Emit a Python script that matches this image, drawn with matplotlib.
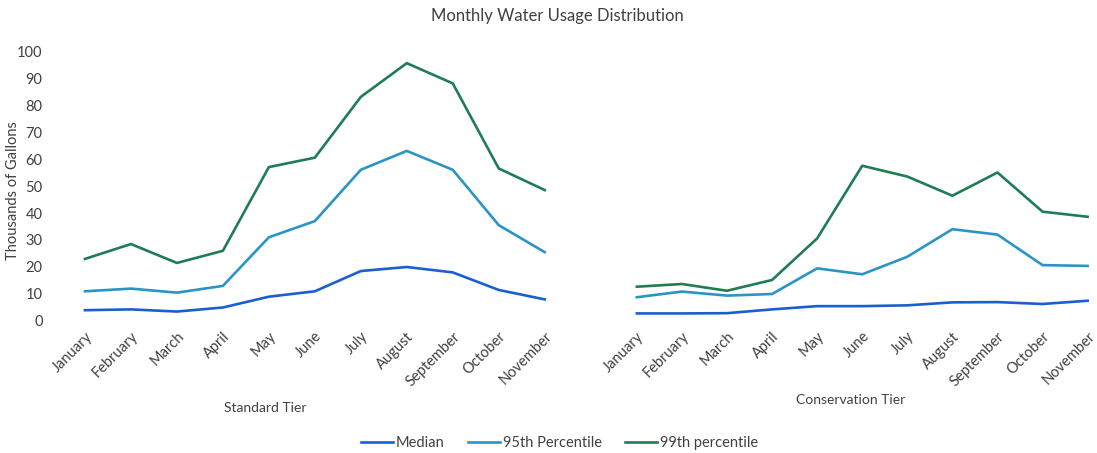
import matplotlib.pyplot as plt

plt.rcParams['font.family'] = ['Lato', 'DejaVu Sans']

# Данні
months = ['January', 'February', 'March', 'April', 'May', 'June', 'July',
          'August', 'September', 'October', 'November']

std_median = [4.0, 4.3, 3.5, 5.0, 9.0, 11.0, 18.5, 20.0, 18.0, 11.5, 8.0]
std_p95 = [11.0, 12.0, 10.5, 13.0, 31.0, 37.0, 56.0, 63.0, 56.0, 35.5, 25.5]
std_p99 = [23.0, 28.5, 21.5, 26.0, 57.0, 60.5, 83.0, 95.5, 88.0, 56.5, 48.5]

cons_median = [2.8, 2.8, 2.9, 4.3, 5.5, 5.5, 5.8, 6.9, 7.0, 6.3, 7.5]
cons_p95 = [8.8, 10.9, 9.4, 10.0, 19.5, 17.3, 23.8, 34.0, 32.0, 20.7, 20.4]
cons_p99 = [12.7, 13.7, 11.2, 15.2, 30.6, 57.5, 53.5, 46.4, 55.0, 40.5, 38.6]

c_median = '#1a5fd0'
c_p95 = '#2a95c4'
c_p99 = '#1f7d55'
txt = '#404040'

fig = plt.figure(figsize=(10.97, 4.53), dpi=100)
ax1 = fig.add_axes([0.0565, 0.2914, 0.461, 0.596])
ax2 = fig.add_axes([0.560, 0.2914, 0.452, 0.596])

x = range(len(months))
for ax, med, p95, p99 in [(ax1, std_median, std_p95, std_p99),
                          (ax2, cons_median, cons_p95, cons_p99)]:
    ax.plot(x, med, color=c_median, lw=1.9, label='Median')
    ax.plot(x, p95, color=c_p95, lw=1.9, label='95th Percentile')
    ax.plot(x, p99, color=c_p99, lw=1.9, label='99th percentile')
    ax.set_xlim(-0.5, len(months) - 0.5)
    ax.set_ylim(0, 100)
    ax.set_xticks(list(x))
    ax.set_xticklabels(months, rotation=45, ha='right', rotation_mode='anchor',
                       fontsize=10.5, color=txt)
    ax.tick_params(length=0, pad=6)
    for s in ax.spines.values():
        s.set_visible(False)

ax1.set_yticks(range(0, 101, 10))
ax1.tick_params(axis='y', labelsize=10.5, labelcolor=txt, pad=14)
ax2.set_yticks([])

fig.text(0.012, 0.58, 'Thousands of Gallons', rotation=90, ha='center',
         va='center', fontsize=10.5, color=txt)
fig.text(0.508, 0.965, 'Monthly Water Usage Distribution', ha='center',
         va='center', fontsize=12, color=txt)
fig.text(0.242, 0.099, 'Standard Tier', ha='center', va='center',
         fontsize=10, color=txt)
fig.text(0.775, 0.116, 'Conservation Tier', ha='center', va='center',
         fontsize=10, color=txt)

h, l = ax1.get_legend_handles_labels()
fig.legend(h, l, loc='center', bbox_to_anchor=(0.51, 0.022), ncol=3,
           frameon=False, fontsize=10.5, handlelength=2.2, handletextpad=0.2,
           columnspacing=1.6, labelcolor=txt)

fig.savefig('out.png', dpi=100)
